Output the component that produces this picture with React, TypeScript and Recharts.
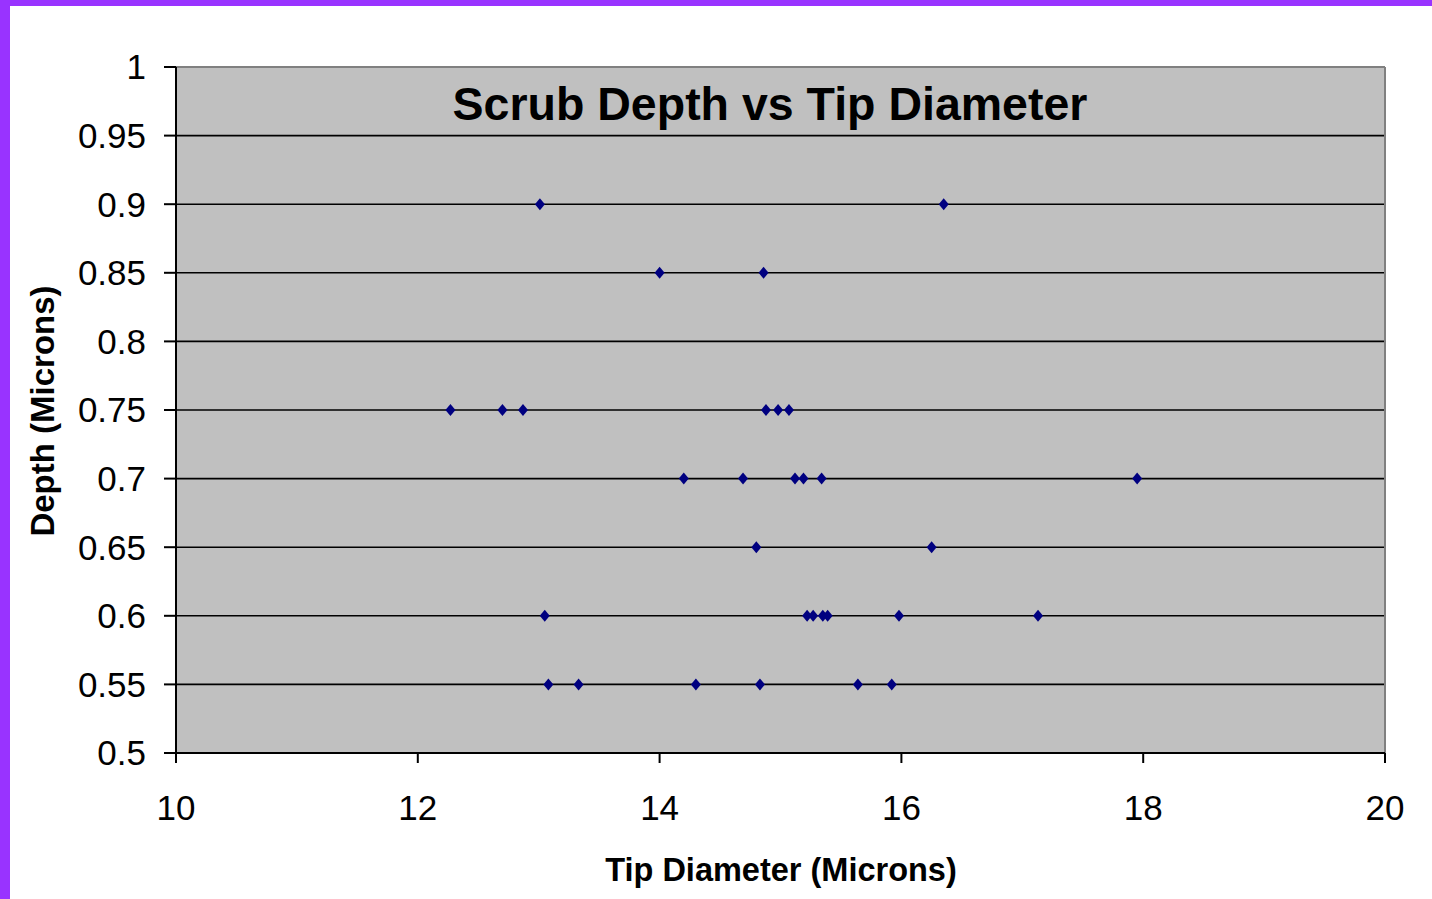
import { CartesianGrid, ReferenceLine, Scatter, ScatterChart, XAxis, YAxis } from "recharts"

const tipDiameter = [
  13.01, 16.35,
  14.0, 14.86,
  12.27, 12.7, 12.87, 14.88, 14.98, 15.07,
  14.2, 14.69, 15.12, 15.19, 15.34, 17.95,
  14.8, 16.25,
  13.05, 15.22, 15.27, 15.35, 15.39, 15.98, 17.13,
  13.08, 13.33, 14.3, 14.83, 15.64, 15.92,
]

const scrubDepth = [
  0.9, 0.9,
  0.85, 0.85,
  0.75, 0.75, 0.75, 0.75, 0.75, 0.75,
  0.7, 0.7, 0.7, 0.7, 0.7, 0.7,
  0.65, 0.65,
  0.6, 0.6, 0.6, 0.6, 0.6, 0.6, 0.6,
  0.55, 0.55, 0.55, 0.55, 0.55, 0.55,
]

const xTicks = [10, 12, 14, 16, 18, 20]
const yTicks = [0.5, 0.55, 0.6, 0.65, 0.7, 0.75, 0.8, 0.85, 0.9, 0.95, 1]

const points = tipDiameter.map((x, i) => ({ x, y: scrubDepth[i] }))

const font = "'Liberation Sans', Arial, sans-serif"

function Diamond(props: any) {
  const { cx, cy } = props
  return (
    <polygon
      points={`${cx},${cy - 6} ${cx + 5},${cy} ${cx},${cy + 6} ${cx - 5},${cy}`}
      fill="#000080"
    />
  )
}

export default function App() {
  return (
    <div
      style={{
        position: "absolute",
        left: 0,
        top: 0,
        width: 1432,
        height: 899,
        background: "#9933FF",
        overflow: "hidden",
      }}
    >
      <div
        style={{
          position: "absolute",
          left: 10,
          top: 6,
          width: 1422,
          height: 893,
          background: "#fff",
        }}
      >
        <ScatterChart width={1422} height={893} margin={{ top: 61, right: 47, left: 0, bottom: 0 }}>
          <CartesianGrid fill="#C0C0C0" stroke="#000" strokeWidth={1.6} vertical={false} fillOpacity={1} />
          <ReferenceLine y={1} stroke="#808080" strokeWidth={2} />
          <ReferenceLine x={20} stroke="#808080" strokeWidth={2} />
          <XAxis
            type="number"
            dataKey="x"
            domain={[10, 20]}
            ticks={xTicks}
            height={146}
            tickSize={10}
            tickMargin={32}
            stroke="#000"
            strokeWidth={2}
            tick={{ fill: "#000", fontSize: 35, fontFamily: font }}
            label={{
              content: () => (
                <text
                  x={771}
                  y={864}
                  dy="0.35em"
                  textAnchor="middle"
                  fontFamily={font}
                  fontSize={32.5}
                  fontWeight="bold"
                  fill="#000"
                >
                  Tip Diameter (Microns)
                </text>
              ),
            }}
          />
          <YAxis
            type="number"
            dataKey="y"
            domain={[0.5, 1]}
            ticks={yTicks}
            width={166}
            tickSize={12}
            tickMargin={18}
            stroke="#000"
            strokeWidth={2}
            tickFormatter={(v: number) => String(v)}
            tick={{ fill: "#000", fontSize: 35, fontFamily: font }}
            label={{
              content: () => (
                <text
                  x={32}
                  y={405}
                  dy="0.35em"
                  textAnchor="middle"
                  transform="rotate(-90 32 405)"
                  fontFamily={font}
                  fontSize={33}
                  fontWeight="bold"
                  fill="#000"
                >
                  Depth (Microns)
                </text>
              ),
            }}
          />
          <Scatter data={points} shape={<Diamond />} isAnimationActive={false} />
        </ScatterChart>
        <div
          style={{
            position: "absolute",
            left: 360,
            top: 75,
            width: 800,
            textAlign: "center",
            fontFamily: font,
            fontWeight: "bold",
            fontSize: 46.5,
            lineHeight: "46px",
            color: "#000",
          }}
        >
          Scrub Depth vs Tip Diameter
        </div>
      </div>
    </div>
  )
}
